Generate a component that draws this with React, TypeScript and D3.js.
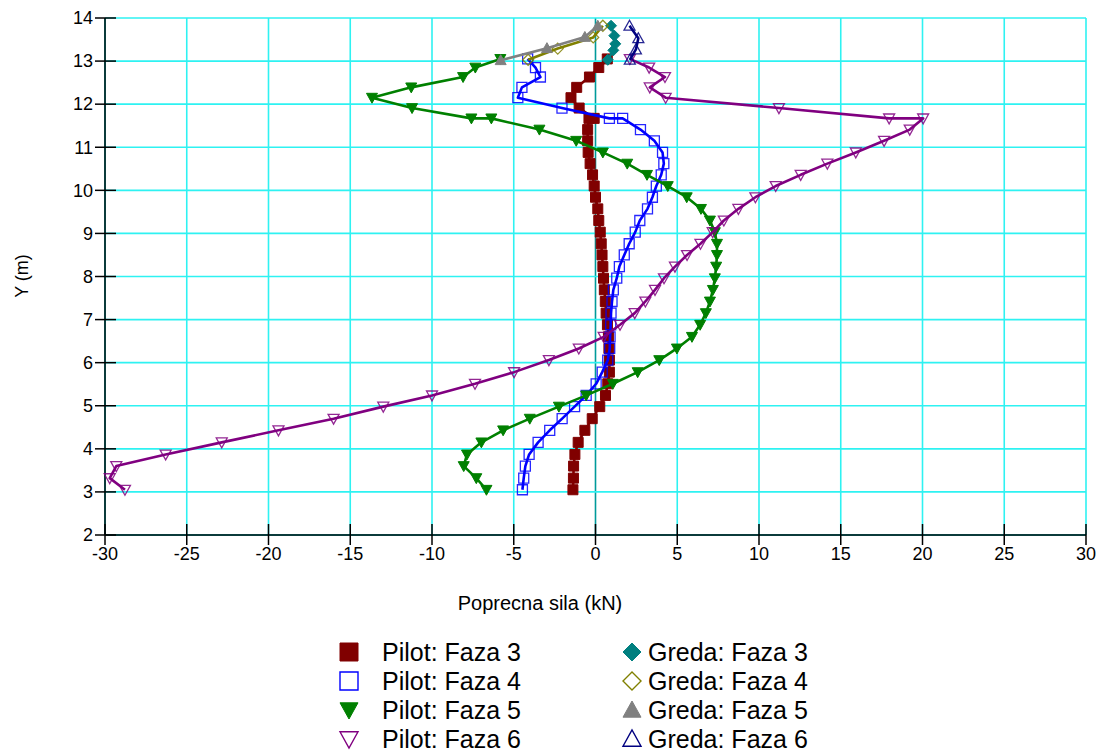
import React from "react";
import * as d3 from "d3";

const xTickValues = [-30, -25, -20, -15, -10, -5, 0, 5, 10, 15, 20, 25, 30];
const yTickValues = [2, 3, 4, 5, 6, 7, 8, 9, 10, 11, 12, 13, 14];

const pilotY = [
  3.05, 3.32, 3.6, 3.87, 4.15, 4.43, 4.7, 4.98, 5.24, 5.51, 5.78, 6.06, 6.33, 6.6,
  6.88, 7.15, 7.42, 7.69, 7.96, 8.23, 8.5, 8.76, 9.03, 9.3, 9.57, 9.84, 10.1, 10.36,
  10.62, 10.88, 11.15, 11.41, 11.67, 11.67, 11.91, 12.15, 12.39, 12.63, 12.85, 13.05,
];

const pilot3X = [
  -1.38, -1.35, -1.34, -1.26, -1.06, -0.65, -0.2, 0.26, 0.61, 0.75, 0.85, 0.85, 0.82, 0.79,
  0.73, 0.65, 0.6, 0.54, 0.49, 0.45, 0.4, 0.35, 0.29, 0.2, 0.14, 0.0, -0.08, -0.18,
  -0.33, -0.45, -0.48, -0.48, -0.4, -0.08, -1.0, -1.5, -1.15, -0.37, 0.2, 0.72,
];

const pilot4X = [
  -4.47, -4.39, -4.29, -4.06, -3.51, -2.8, -2.04, -1.28, -0.57, 0.04, 0.41, 0.75, 0.87, 0.89,
  0.93, 0.95, 1.01, 1.09, 1.3, 1.46, 1.76, 2.06, 2.43, 2.71, 3.18, 3.48, 3.72, 4.02,
  4.18, 4.1, 3.6, 2.75, 1.66, 0.85, -2.05, -4.75, -4.5, -3.37, -3.67, -4.15,
];

const pilot5X = [
  -6.67, -7.29, -8.06, -7.86, -6.98, -5.65, -4.02, -2.24, -0.57, 1.06, 2.58, 3.9, 4.98, 5.9,
  6.4, 6.75, 7.0, 7.18, 7.3, 7.38, 7.43, 7.43, 7.3, 7.0, 6.45, 5.58, 4.42, 3.15,
  1.94, 0.45, -1.18, -3.43, -6.37, -7.59, -11.22, -13.67, -11.27, -8.1, -7.35, -5.82,
];

const pilot6X = [
  -28.78, -29.71, -29.31, -26.29, -22.86, -19.39, -16.02, -12.98, -10.0, -7.37, -4.98, -2.85, -1.02, 0.5,
  1.5, 2.4, 3.05, 3.64, 4.19, 4.86, 5.6, 6.42, 7.17, 7.85, 8.74, 9.78, 11.02, 12.55,
  14.18, 15.92, 17.65, 19.22, 20.04, 17.96, 11.22, 4.29, 3.32, 4.25, 3.28, 2.1,
];

const greda3Y = [13.03, 13.25, 13.4, 13.59, 13.82];
const greda3X = [0.75, 1.09, 1.21, 1.15, 0.95];
const greda4Y = [13.03, 13.29, 13.55, 13.82];
const greda4X = [-4.12, -2.31, -0.14, 0.45];
const greda5Y = [13.02, 13.3, 13.56, 13.82];
const greda5X = [-5.8, -2.97, -0.65, 0.14];
const greda6Y = [13.03, 13.27, 13.53, 13.82];
const greda6X = [2.1, 2.47, 2.62, 2.08];

type MarkerKind = "square" | "triDown" | "triUp" | "diamond";

interface Series {
  name: string;
  xs: number[];
  ys: number[];
  color: string;
  marker: MarkerKind;
  filled: boolean;
}

const seriesList: Series[] = [
  { name: "Pilot: Faza 3", xs: pilot3X, ys: pilotY, color: "#800000", marker: "square", filled: true },
  { name: "Pilot: Faza 4", xs: pilot4X, ys: pilotY, color: "#0000FF", marker: "square", filled: false },
  { name: "Pilot: Faza 5", xs: pilot5X, ys: pilotY, color: "#008000", marker: "triDown", filled: true },
  { name: "Pilot: Faza 6", xs: pilot6X, ys: pilotY, color: "#800080", marker: "triDown", filled: false },
  { name: "Greda: Faza 3", xs: greda3X, ys: greda3Y, color: "#008080", marker: "diamond", filled: true },
  { name: "Greda: Faza 4", xs: greda4X, ys: greda4Y, color: "#808000", marker: "diamond", filled: false },
  { name: "Greda: Faza 5", xs: greda5X, ys: greda5Y, color: "#808080", marker: "triUp", filled: true },
  { name: "Greda: Faza 6", xs: greda6X, ys: greda6Y, color: "#000080", marker: "triUp", filled: false },
];

function markerPath(kind: MarkerKind, cx: number, cy: number, s: number): string {
  const h = s / 2;
  switch (kind) {
    case "square":
      return `M${cx - h},${cy - h}H${cx + h}V${cy + h}H${cx - h}Z`;
    case "triDown":
      return `M${cx - h},${cy - h * 0.8}H${cx + h}L${cx},${cy + h}Z`;
    case "triUp":
      return `M${cx - h},${cy + h * 0.8}H${cx + h}L${cx},${cy - h}Z`;
    case "diamond":
      return `M${cx},${cy - h}L${cx + h},${cy}L${cx},${cy + h}L${cx - h},${cy}Z`;
  }
}

const W = 1103;
const H = 753;
const FONT = "Liberation Sans, Arial, sans-serif";

export default function App() {
  const x = d3.scaleLinear().domain([-30, 30]).range([105, 1086]);
  const y = d3.scaleLinear().domain([2, 14]).range([535, 18]);
  const line = d3
    .line<[number, number]>()
    .x((d) => x(d[0]))
    .y((d) => y(d[1]));

  const axisColor = "#0b3b3b";
  const gridColor = "#2ef2f2";

  return (
    <svg
      width={W}
      height={H}
      style={{ position: "absolute", left: 0, top: 0, background: "#fff" }}
      fontFamily={FONT}
    >
      {/* grid */}
      {xTickValues.slice(1).map((t) => (
        <line
          key={"gx" + t}
          x1={x(t)}
          x2={x(t)}
          y1={y(2)}
          y2={y(14)}
          stroke={t === 0 ? "#009a9a" : gridColor}
          strokeWidth={1.6}
        />
      ))}
      {yTickValues.slice(1).map((t) => (
        <line
          key={"gy" + t}
          x1={x(-30)}
          x2={x(30)}
          y1={y(t)}
          y2={y(t)}
          stroke={gridColor}
          strokeWidth={1.6}
        />
      ))}

      {/* axes */}
      <line x1={x(-30)} x2={x(-30)} y1={y(2)} y2={y(14)} stroke={axisColor} strokeWidth={2} />
      <line x1={x(-30)} x2={x(30)} y1={y(2)} y2={y(2)} stroke={axisColor} strokeWidth={2} />
      {yTickValues.map((t) => (
        <g key={"yt" + t}>
          <line x1={x(-30) - 10} x2={x(-30) + 11} y1={y(t)} y2={y(t)} stroke="#000" strokeWidth={1.5} />
          <text x={x(-30) - 12} y={y(t)} dy="0.35em" textAnchor="end" fontSize={18} fill="#000">
            {t}
          </text>
        </g>
      ))}
      {xTickValues.map((t) => (
        <g key={"xt" + t}>
          <line x1={x(t)} x2={x(t)} y1={y(2) - 11} y2={y(2) + 10} stroke="#000" strokeWidth={1.5} />
          <text x={x(t)} y={y(2) + 25} textAnchor="middle" fontSize={18} fill="#000">
            {t}
          </text>
        </g>
      ))}

      <text x={540} y={610} textAnchor="middle" fontSize={20} fill="#000">
        Poprecna sila (kN)
      </text>
      <text
        transform={`translate(28,${276}) rotate(-90)`}
        textAnchor="middle"
        fontSize={18}
        fill="#000"
      >
        Y (m)
      </text>

      {/* series */}
      {seriesList.map((s) => {
        const pts: [number, number][] = s.xs.map((v, i) => [v, s.ys[i]]);
        return (
          <g key={s.name}>
            <path d={line(pts) || ""} fill="none" stroke={s.color} strokeWidth={2.6} strokeLinejoin="round" />
            {pts.map((p, i) => (
              <path
                key={i}
                d={markerPath(s.marker, x(p[0]), y(p[1]), s.marker === "square" ? 10 : 11)}
                fill={s.filled ? s.color : "none"}
                stroke={s.color}
                strokeWidth={s.filled ? 1 : 1.3}
                opacity={s.filled ? 1 : 0.85}
              />
            ))}
          </g>
        );
      })}

      {/* legend */}
      {seriesList.map((s, i) => {
        const col = i < 4 ? 0 : 1;
        const row = i % 4;
        const mx = col === 0 ? 349 : 632;
        const tx = col === 0 ? 382 : 648;
        const cy = 652 + row * 29;
        return (
          <g key={"lg" + s.name}>
            <path
              d={markerPath(s.marker, mx, cy, 18)}
              fill={s.filled ? s.color : "none"}
              stroke={s.color}
              strokeWidth={s.filled ? 1 : 1.4}
            />
            <text x={tx} y={cy} dy="0.35em" fontSize={25} fill="#000">
              {s.name}
            </text>
          </g>
        );
      })}
    </svg>
  );
}
